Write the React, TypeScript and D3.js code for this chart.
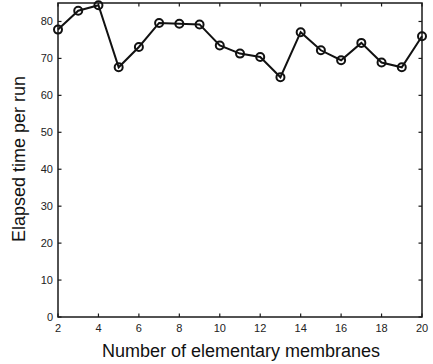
import React from "react";
import * as d3 from "d3";

// Number of elementary membranes vs. elapsed time per run
const membranes = [2, 3, 4, 5, 6, 7, 8, 9, 10, 11, 12, 13, 14, 15, 16, 17, 18, 19, 20];
const elapsed = [77.8, 82.9, 84.4, 67.6, 73.1, 79.6, 79.4, 79.2, 73.5, 71.3, 70.4, 64.9, 77.1, 72.2, 69.5, 74.2, 68.9, 67.6, 76.0];
const xTicks = [2, 4, 6, 8, 10, 12, 14, 16, 18, 20];
const yTicks = [0, 10, 20, 30, 40, 50, 60, 70, 80];

const W = 433;
const H = 364;
const margin = { left: 58, right: 11, top: 3, bottom: 47 };

export default function App() {
  const x = d3
    .scaleLinear()
    .domain([2, 20])
    .range([margin.left, W - margin.right]);
  const y = d3
    .scaleLinear()
    .domain([0, 85])
    .range([H - margin.bottom, margin.top]);

  const line = d3
    .line<number>()
    .x((_, i) => x(membranes[i]))
    .y((d) => y(d));

  const x0 = x.range()[0];
  const x1 = x.range()[1];
  const y0 = y.range()[0];
  const y1 = y.range()[1];
  const tick = 3.5;
  const axisColor = "#1a1a1a";
  const font = "'Liberation Sans', Arial, sans-serif";

  return (
    <div style={{ position: "fixed", left: 0, top: 0 }}>
      <svg width={W} height={H} style={{ display: "block", background: "#fff" }}>
        <rect x={0} y={0} width={W} height={H} fill="#fff" />
        {/* frame */}
        <rect
          x={x0}
          y={y1}
          width={x1 - x0}
          height={y0 - y1}
          fill="none"
          stroke={axisColor}
          strokeWidth={1.5}
        />
        {/* x ticks, inward on bottom and top */}
        {xTicks.map((t) => (
          <g key={"xt" + t}>
            <line x1={x(t)} x2={x(t)} y1={y0} y2={y0 - tick} stroke={axisColor} strokeWidth={1.2} />
            <line x1={x(t)} x2={x(t)} y1={y1} y2={y1 + tick} stroke={axisColor} strokeWidth={1.2} />
            <text
              x={x(t)}
              y={y0 + 15}
              textAnchor="middle"
              fontFamily={font}
              fontSize={11}
              fill="#222"
            >
              {t}
            </text>
          </g>
        ))}
        {/* y ticks, inward on left and right */}
        {yTicks.map((t) => (
          <g key={"yt" + t}>
            <line x1={x0} x2={x0 + tick} y1={y(t)} y2={y(t)} stroke={axisColor} strokeWidth={1.2} />
            <line x1={x1} x2={x1 - tick} y1={y(t)} y2={y(t)} stroke={axisColor} strokeWidth={1.2} />
            <text
              x={x0 - 5}
              y={y(t) + 4}
              textAnchor="end"
              fontFamily={font}
              fontSize={11}
              fill="#222"
            >
              {t}
            </text>
          </g>
        ))}
        {/* series */}
        <path d={line(elapsed) || ""} fill="none" stroke="#111" strokeWidth={2} />
        {elapsed.map((v, i) => (
          <circle
            key={"pt" + i}
            cx={x(membranes[i])}
            cy={y(v)}
            r={4}
            fill="none"
            stroke="#111"
            strokeWidth={2}
          />
        ))}
        {/* axis titles */}
        <text
          x={(x0 + x1) / 2 + 1}
          y={357}
          textAnchor="middle"
          fontFamily={font}
          fontSize={18}
          fill="#111"
        >
          Number of elementary membranes
        </text>
        <text
          transform={`translate(25, ${(y0 + y1) / 2 - 1}) rotate(-90)`}
          textAnchor="middle"
          fontFamily={font}
          fontSize={18}
          fill="#111"
        >
          Elapsed time per run
        </text>
      </svg>
    </div>
  );
}
